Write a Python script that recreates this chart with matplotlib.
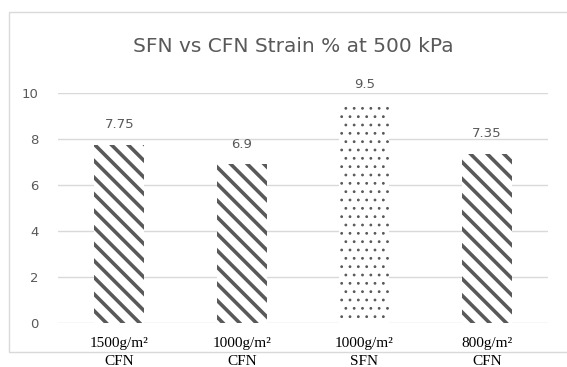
import numpy as np
import matplotlib.pyplot as plt
from matplotlib.patches import Rectangle

labels = ["1500g/m\u00b2\nCFN", "1000g/m\u00b2\nCFN", "1000g/m\u00b2\nSFN", "800g/m\u00b2\nCFN"]
values = [7.75, 6.9, 9.5, 7.35]
hatches = ["\\\\", "\\\\", "..", "\\\\"]
hatch_lw = [2.6, 2.6, 0.8, 2.6]

plt.rcParams['hatch.linewidth'] = 2.6
grey = "#595959"

fig = plt.figure(figsize=(5.67, 3.67), dpi=100)
# chart frame (right edge runs off the picture)
fig.patches.append(Rectangle((9/567, 1-352/367), 600/567, 340/367, transform=fig.transFigure,
                             fill=False, edgecolor="#d9d9d9", linewidth=1))
ax = fig.add_axes([58/567, 1-323/367, 490/567, 230/367])

x = np.arange(len(values))
bars = ax.bar(x, values, width=0.41, color="white", edgecolor=grey, linewidth=0, zorder=2)
for b, h, lw in zip(bars, hatches, hatch_lw):
    b.set_hatch(h)
    if hasattr(b, "set_hatch_linewidth"):
        b.set_hatch_linewidth(lw)

for xi, v in zip(x, values):
    ax.text(xi, v + 0.87, f"{v:g}", ha="center", va="center", fontsize=9.5, color=grey)

ax.set_xlim(-0.5, 3.5)
ax.set_ylim(0, 10)
ax.set_yticks([0, 2, 4, 6, 8, 10])
ax.yaxis.grid(True, color="#d9d9d9", linewidth=1)
ax.set_axisbelow(True)
for s in ax.spines.values():
    s.set_visible(False)
ax.tick_params(axis="y", length=0, pad=14, labelsize=9.5, labelcolor=grey)
ax.tick_params(axis="x", length=0, pad=10)
ax.set_xticks(x)
ax.set_xticklabels(labels, fontfamily="Liberation Serif", fontsize=11, color="black", linespacing=1.55)

fig.text(293/567, 1-47/367, "SFN vs CFN Strain % at 500 kPa", ha="center", va="center",
         fontsize=14.5, color=grey)

fig.savefig("out.png", dpi=100)
